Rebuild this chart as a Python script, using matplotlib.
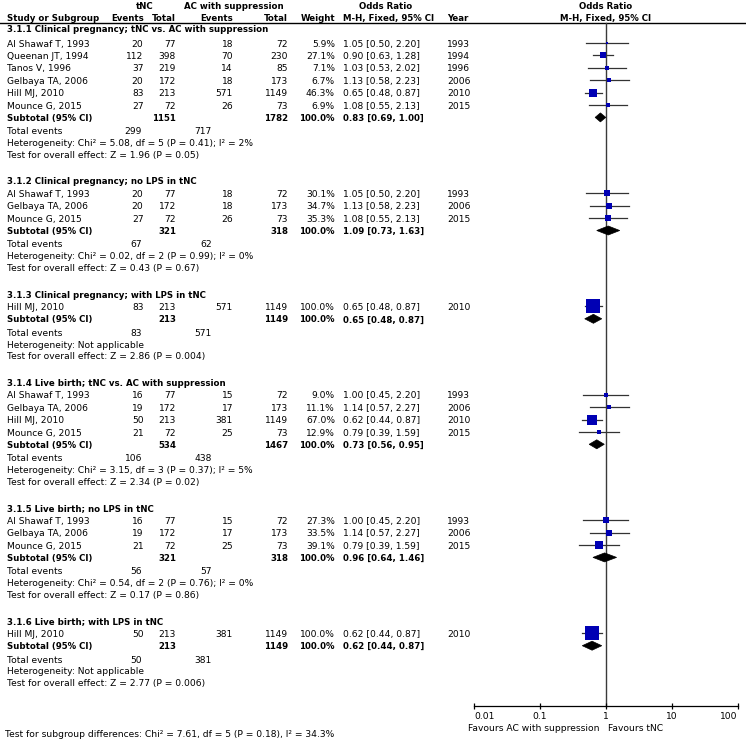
import numpy as np
import matplotlib.pyplot as plt
from matplotlib.patches import Polygon

# subgroup data
sub_titles = [
    "3.1.1 Clinical pregnancy; tNC vs. AC with suppression",
    "3.1.2 Clinical pregnancy; no LPS in tNC",
    "3.1.3 Clinical pregnancy; with LPS in tNC",
    "3.1.4 Live birth; tNC vs. AC with suppression",
    "3.1.5 Live birth; no LPS in tNC",
    "3.1.6 Live birth; with LPS in tNC",
]
sub_tnc_total = [1151, 321, 213, 534, 321, 213]
sub_ac_total = [1782, 318, 1149, 1467, 318, 1149]
sub_or = [0.83, 1.09, 0.65, 0.73, 0.96, 0.62]
sub_lo = [0.69, 0.73, 0.48, 0.56, 0.64, 0.44]
sub_hi = [1.00, 1.63, 0.87, 0.95, 1.46, 0.87]
sub_tnc_events = [299, 67, 83, 106, 56, 50]
sub_ac_events = [717, 62, 571, 438, 57, 381]
sub_het = [
    "Heterogeneity: Chi² = 5.08, df = 5 (P = 0.41); I² = 2%",
    "Heterogeneity: Chi² = 0.02, df = 2 (P = 0.99); I² = 0%",
    "Heterogeneity: Not applicable",
    "Heterogeneity: Chi² = 3.15, df = 3 (P = 0.37); I² = 5%",
    "Heterogeneity: Chi² = 0.54, df = 2 (P = 0.76); I² = 0%",
    "Heterogeneity: Not applicable",
]
sub_z = [
    "Test for overall effect: Z = 1.96 (P = 0.05)",
    "Test for overall effect: Z = 0.43 (P = 0.67)",
    "Test for overall effect: Z = 2.86 (P = 0.004)",
    "Test for overall effect: Z = 2.34 (P = 0.02)",
    "Test for overall effect: Z = 0.17 (P = 0.86)",
    "Test for overall effect: Z = 2.77 (P = 0.006)",
]

# study rows
study_group = [0, 0, 0, 0, 0, 0, 1, 1, 1, 2, 3, 3, 3, 3, 4, 4, 4, 5]
study_names = ["Al Shawaf T, 1993", "Queenan JT, 1994", "Tanos V, 1996",
               "Gelbaya TA, 2006", "Hill MJ, 2010", "Mounce G, 2015",
               "Al Shawaf T, 1993", "Gelbaya TA, 2006", "Mounce G, 2015",
               "Hill MJ, 2010",
               "Al Shawaf T, 1993", "Gelbaya TA, 2006", "Hill MJ, 2010", "Mounce G, 2015",
               "Al Shawaf T, 1993", "Gelbaya TA, 2006", "Mounce G, 2015",
               "Hill MJ, 2010"]
tnc_events = [20, 112, 37, 20, 83, 27, 20, 20, 27, 83, 16, 19, 50, 21, 16, 19, 21, 50]
tnc_total = [77, 398, 219, 172, 213, 72, 77, 172, 72, 213, 77, 172, 213, 72, 77, 172, 72, 213]
ac_events = [18, 70, 14, 18, 571, 26, 18, 18, 26, 571, 15, 17, 381, 25, 15, 17, 25, 381]
ac_total = [72, 230, 85, 173, 1149, 73, 72, 173, 73, 1149, 72, 173, 1149, 73, 72, 173, 73, 1149]
weights = [5.9, 27.1, 7.1, 6.7, 46.3, 6.9, 30.1, 34.7, 35.3, 100.0,
           9.0, 11.1, 67.0, 12.9, 27.3, 33.5, 39.1, 100.0]
odds = [1.05, 0.90, 1.03, 1.13, 0.65, 1.08, 1.05, 1.13, 1.08, 0.65,
        1.00, 1.14, 0.62, 0.79, 1.00, 1.14, 0.79, 0.62]
ci_low = [0.50, 0.63, 0.53, 0.58, 0.48, 0.55, 0.50, 0.58, 0.55, 0.48,
          0.45, 0.57, 0.44, 0.39, 0.45, 0.57, 0.39, 0.44]
ci_high = [2.20, 1.28, 2.02, 2.23, 0.87, 2.13, 2.20, 2.23, 2.13, 0.87,
           2.20, 2.27, 0.87, 1.59, 2.20, 2.27, 1.59, 0.87]
years = [1993, 1994, 1996, 2006, 2010, 2015, 1993, 2006, 2015, 2010,
         1993, 2006, 2010, 2015, 1993, 2006, 2015, 2010]

axis_ticks = [0.01, 0.1, 1, 10, 100]
axis_labels = ["0.01", "0.1", "1", "10", "100"]

W, H = 746, 739
fs = 6.6
fsb = 6.25
fig = plt.figure(figsize=(W / 100, H / 100), dpi=100)
ax = fig.add_axes([0, 0, 1, 1])
ax.set_xlim(0, W)
ax.set_ylim(H, 0)
ax.axis("off")

# forest panel, log scale, rows in pixel units
x0, x1 = 474, 737.5
ax2 = fig.add_axes([x0 / W, 0, (x1 - x0) / W, 1])
ax2.set_xscale("log")
ax2.set_xlim(0.01, 100)
ax2.set_ylim(H, 0)
ax2.patch.set_alpha(0)
for s in ["left", "right", "top"]:
    ax2.spines[s].set_visible(False)
ax2.spines["bottom"].set_position(("data", 706))
ax2.spines["bottom"].set_linewidth(0.9)
ax2.set_yticks([])
ax2.minorticks_off()
ax2.set_xticks(axis_ticks)
ax2.set_xticklabels(axis_labels, fontsize=fs)
ax2.tick_params(axis="x", direction="inout", length=5, width=0.9, pad=1.5)
tl = ax2.get_xticklabels()
tl[0].set_ha("left")
tl[-1].set_ha("right")

c_name, c_te, c_tt, c_ae, c_at, c_w, c_or, c_yr = 7, 143.5, 176, 233, 288, 335, 343, 447
c_te_tot, c_ae_tot = 142, 212


def txt(x, y, s, ha="left", bold=False):
    ax.text(x, y + 3.6, s, ha=ha, va="baseline", fontsize=fsb if bold else fs,
            fontweight="bold" if bold else "normal", color="black")


# header
txt(145, 5, "tNC", ha="center", bold=True)
txt(233.5, 5, "AC with suppression", ha="center", bold=True)
txt(386, 5, "Odds Ratio", ha="center", bold=True)
txt(c_name, 17, "Study or Subgroup", bold=True)
txt(c_te, 17, "Events", ha="right", bold=True)
txt(c_tt, 17, "Total", ha="right", bold=True)
txt(c_ae, 17, "Events", ha="right", bold=True)
txt(c_at, 17, "Total", ha="right", bold=True)
txt(c_w, 17, "Weight", ha="right", bold=True)
txt(c_or, 17, "M-H, Fixed, 95% CI", bold=True)
txt(c_yr, 17, "Year", bold=True)
ax2.text(1, 5 + 3.6, "Odds Ratio", ha="center", va="baseline", fontsize=fsb, fontweight="bold")
ax2.text(1, 17 + 3.6, "M-H, Fixed, 95% CI", ha="center", va="baseline", fontsize=fsb, fontweight="bold")
ax.plot([0, W], [23, 23], color="black", lw=1)

ax2.plot([1, 1], [23, 706], color="#3a3a3a", lw=1, zorder=1)

step = 12.4
y = 43.0
for g in range(len(sub_titles)):
    head_y = 28.5 if g == 0 else y - step
    txt(c_name, head_y, sub_titles[g], bold=True)
    for i in range(len(study_group)):
        if study_group[i] != g:
            continue
        txt(c_name, y, study_names[i])
        txt(c_te, y, str(tnc_events[i]), ha="right")
        txt(c_tt, y, str(tnc_total[i]), ha="right")
        txt(c_ae, y, str(ac_events[i]), ha="right")
        txt(c_at, y, str(ac_total[i]), ha="right")
        txt(c_w, y, "%.1f%%" % weights[i], ha="right")
        txt(c_or, y, "%.2f [%.2f, %.2f]" % (odds[i], ci_low[i], ci_high[i]))
        txt(c_yr, y, str(years[i]))
        ax2.plot([ci_low[i], ci_high[i]], [y, y], color="#333333", lw=0.9, zorder=2)
        side = (2.2 + 12.5 * weights[i] / 100) * 0.72
        ax2.scatter([odds[i]], [y], marker="s", s=side ** 2, color="#0000B4",
                    linewidths=0, zorder=3)
        y += step
    # subtotal
    txt(c_name, y, "Subtotal (95% CI)", bold=True)
    txt(c_tt, y, str(sub_tnc_total[g]), ha="right", bold=True)
    txt(c_at, y, str(sub_ac_total[g]), ha="right", bold=True)
    txt(c_w, y, "100.0%", ha="right", bold=True)
    txt(c_or, y, "%.2f [%.2f, %.2f]" % (sub_or[g], sub_lo[g], sub_hi[g]), bold=True)
    dia = Polygon([[sub_lo[g], y], [sub_or[g], y - 4.5], [sub_hi[g], y], [sub_or[g], y + 4.5]],
                  closed=True, facecolor="black", edgecolor="black", lw=0.5, zorder=3)
    ax2.add_patch(dia)
    y += 13.3
    txt(c_name, y, "Total events")
    txt(c_te_tot, y, str(sub_tnc_events[g]), ha="right")
    txt(c_ae_tot, y, str(sub_ac_events[g]), ha="right")
    y += 11.8
    txt(c_name, y, sub_het[g])
    y += 11.8
    txt(c_name, y, sub_z[g])
    y += 26.6 + step

txt(5, 733, "Test for subgroup differences: Chi² = 7.61, df = 5 (P = 0.18), I² = 34.3%")

ax2.annotate("Favours AC with suppression", xy=(1, 727 + 3.6), xytext=(-4.5, 0),
             textcoords="offset points", ha="right", va="baseline", fontsize=fs)
ax2.annotate("Favours tNC", xy=(1, 727 + 3.6), xytext=(1.5, 0),
             textcoords="offset points", ha="left", va="baseline", fontsize=fs)

fig.savefig("out.png", dpi=100)
